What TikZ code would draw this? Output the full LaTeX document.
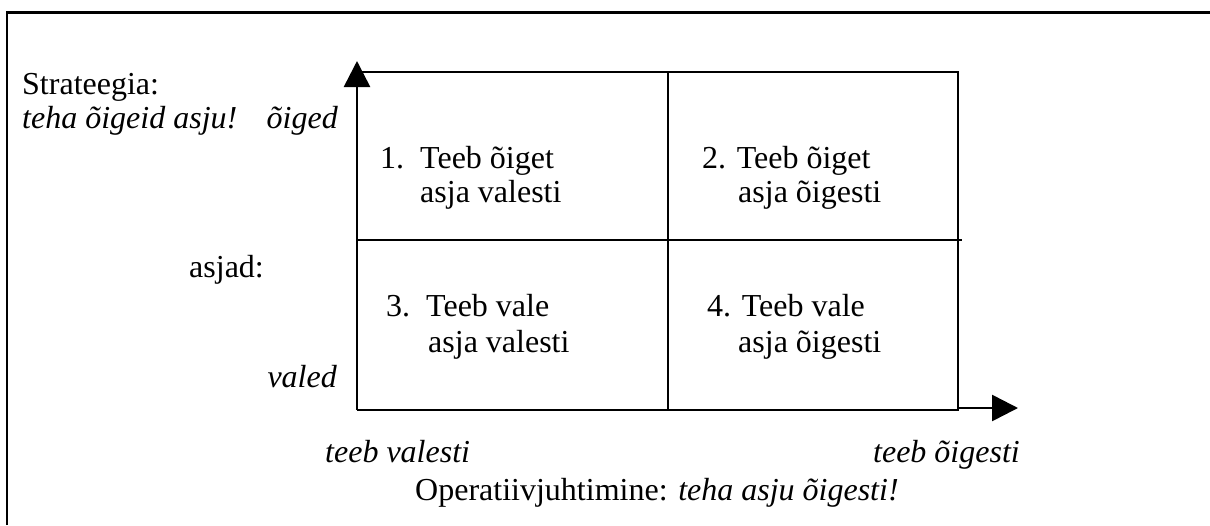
\documentclass[tikz,border=0pt]{standalone}
\usepackage{fontspec}
\setmainfont{Liberation Serif}
\usetikzlibrary{positioning,arrows.meta}
\newcommand*{\txtsize}{\fontsize{32}{35}\selectfont}

\begin{document}
\begin{tikzpicture}[x=1pt,y=-1pt,
  lbl/.style={anchor=base west,inner sep=0pt,font=\txtsize},
  rlbl/.style={anchor=base east,inner sep=0pt,font=\txtsize},
  thickline/.style={line width=2.6pt},
  axisarrow/.style={thickline,-{Triangle[length=26pt,width=26pt]}}]
\useasboundingbox (0,0) rectangle (1210,525);
% Outer frame (only top and left visible)
\draw[thickline] (7,525) -- (7,12.5) -- (1210,12.5);
% Corners of the matrix
\coordinate (origin) at (357,410);
\coordinate (topleft) at (357,72);
\coordinate (topright) at (958,72);
\coordinate (botright) at (958,410);
\coordinate (midtop) at (668,72);
\coordinate (midbot) at (668,410);
\coordinate (midleft) at (357,240);
\coordinate (midright) at (962,240);
\coordinate (ytip) at (357,61);
\coordinate (xstart) at (958,408);
\coordinate (xtip) at (1018,408);
% Matrix lines
\draw[thickline] (topleft) -- (topright) -- (botright) -- (origin);
\draw[thickline] (midtop) -- (midbot);
\draw[thickline] (midleft) -- (midright);
% Axes
\draw[axisarrow] (origin) -- (ytip);
\draw[axisarrow] (xstart) -- (xtip);
% Vertical axis labels
\node[lbl] (strat) at (22,94) {Strateegia:};
\node[lbl] (stratgoal) at (22,128) {\itshape teha õigeid asju!};
\node[rlbl] (oiged) at (338,128) {\itshape õiged};
\node[lbl] (asjad) at (189,277) {asjad:};
\node[rlbl] (valed) at (337,387) {\itshape valed};
% Quadrants
\node[lbl] (q1a) at (380,168) {1.\ \ Teeb õiget};
\node[lbl] (q1b) at (420,202) {asja valesti};
\node[lbl] (q2a) at (702,168) {2. Teeb õiget};
\node[lbl] (q2b) at (738,202) {asja õigesti};
\node[lbl] (q3a) at (386,316) {3.\ \ Teeb vale};
\node[lbl] (q3b) at (428,352) {asja valesti};
\node[lbl] (q4a) at (707,316) {4. Teeb vale};
\node[lbl] (q4b) at (738,352) {asja õigesti};
% Horizontal axis labels
\node[lbl] (tvalesti) at (325,462) {\itshape teeb valesti};
\node[rlbl] (toigesti) at (1020,462) {\itshape teeb õigesti};
\node[lbl] (oper) at (415,500) {Operatiivjuhtimine: \itshape teha asju õigesti!};
\end{tikzpicture}
\end{document}
